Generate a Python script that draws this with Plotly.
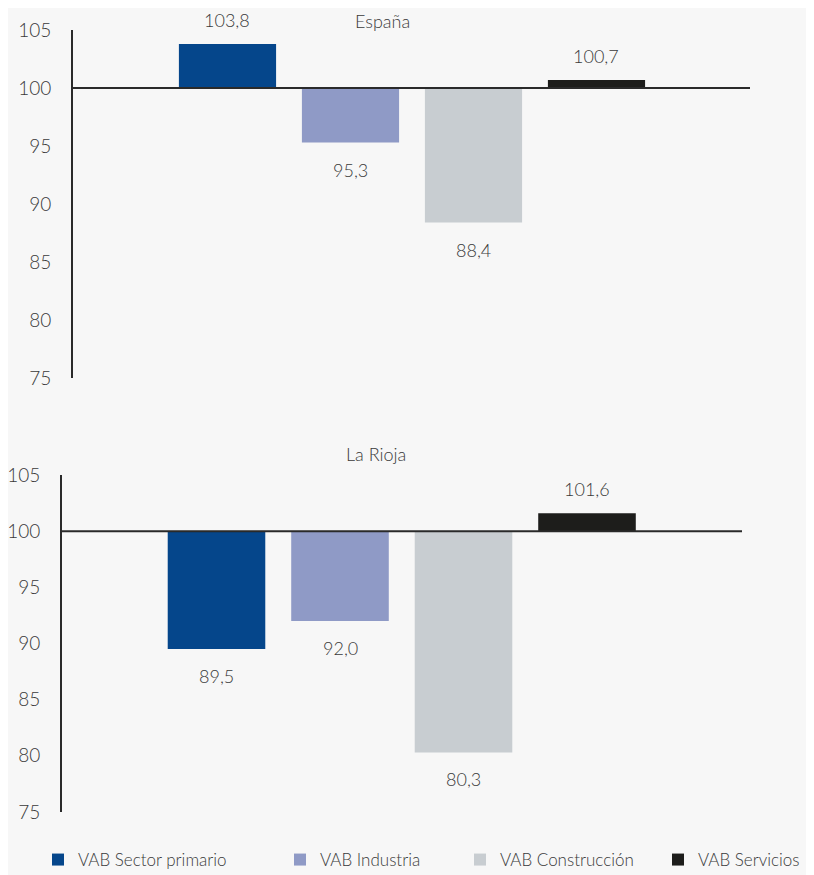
import plotly.graph_objects as go

categories = ["VAB Sector primario", "VAB Industria", "VAB Construcción", "VAB Servicios"]
espana = [103.8, 95.3, 88.4, 100.7]
rioja = [89.5, 92.0, 80.3, 101.6]
colors = ["#05468B", "#8F9AC6", "#C8CDD1", "#1D1D1B"]
panel_titles = ["España", "La Rioja"]
y_ticks = [75, 80, 85, 90, 95, 100, 105]
BASE = 100

# page is rendered with an 8px body margin: figure fills the rest of the window
OFF = 8
W, H = 814 - OFF, 875 - OFF
FONT = "Lato, 'Open Sans', sans-serif"
TXT = "#3a3a3a"

def px_x(p):
    return (p - OFF) / W

def px_y(p):
    return 1 - (p - OFF) / H

fig = go.Figure()
legends = ["legend", "legend2", "legend3", "legend4"]

for panel, (vals, xa, ya) in enumerate([(espana, "x", "y"), (rioja, "x2", "y2")]):
    for i, (cat, v, c) in enumerate(zip(categories, vals, colors)):
        fig.add_trace(go.Bar(
            x=[i], y=[v - BASE], base=BASE, name=cat, marker_color=c,
            marker_line_width=0, width=0.79, xaxis=xa, yaxis=ya,
            showlegend=(panel == 0), legend=legends[i], hoverinfo="skip"))
        fig.add_annotation(
            x=i, y=v, xref=xa, yref=ya, text=f"{v:.1f}".replace(".", ","),
            showarrow=False, yshift=24 if v >= BASE else -27,
            font=dict(size=18, color=TXT, family=FONT, weight=300))

axis_common = dict(showgrid=False, zeroline=False, showticklabels=False,
                   showline=False, ticks="", fixedrange=True, automargin=False)
yaxis_common = dict(range=[75, 105], tickvals=y_ticks, showgrid=False, zeroline=False,
                    showline=True, linewidth=2, linecolor="#2a2a2a", ticks="",
                    automargin=False, ticklabelstandoff=16,
                    tickfont=dict(size=19, color=TXT, family=FONT, weight=300))

fig.update_layout(
    width=W, height=H,
    margin=dict(l=0, r=0, t=0, b=0, autoexpand=False),
    paper_bgcolor="#F7F7F7", plot_bgcolor="#F7F7F7",
    barmode="overlay",
    xaxis=dict(domain=[px_x(73), px_x(750)], range=[-1.256, 4.248], anchor="y", **axis_common),
    yaxis=dict(domain=[px_y(378), px_y(30)], anchor="x", **yaxis_common),
    xaxis2=dict(domain=[px_x(62), px_x(742)], range=[-1.251, 4.255], anchor="y2", **axis_common),
    yaxis2=dict(domain=[px_y(812), px_y(475)], anchor="x2", **yaxis_common),
)

# baseline at 100
for xa, ya in [("x", "y"), ("x2", "y2")]:
    fig.add_shape(type="line", xref=f"{xa} domain", yref=ya, x0=0, x1=1, y0=BASE, y1=BASE,
                  line=dict(color="#2a2a2a", width=2), layer="above")

fig.add_annotation(text=panel_titles[0], xref="paper", yref="paper", x=px_x(382), y=px_y(21),
                   xanchor="center", yanchor="middle",
                   showarrow=False, font=dict(size=18, color=TXT, family=FONT, weight=300))
fig.add_annotation(text=panel_titles[1], xref="paper", yref="paper", x=px_x(376), y=px_y(454),
                   xanchor="center", yanchor="middle",
                   showarrow=False, font=dict(size=18, color=TXT, family=FONT, weight=300))

# text start positions of the legend entries (page px); symbol/text offset is 40px
leg_text_x = [78, 320, 500, 698]
for name, tx in zip(legends, leg_text_x):
    fig.update_layout({name: dict(x=px_x(tx - 40), y=px_y(860), xanchor="left", yanchor="middle",
                                  orientation="h", bgcolor="rgba(0,0,0,0)",
                                  font=dict(size=17, color=TXT, family=FONT, weight=300))})

fig.write_html("out.html")
